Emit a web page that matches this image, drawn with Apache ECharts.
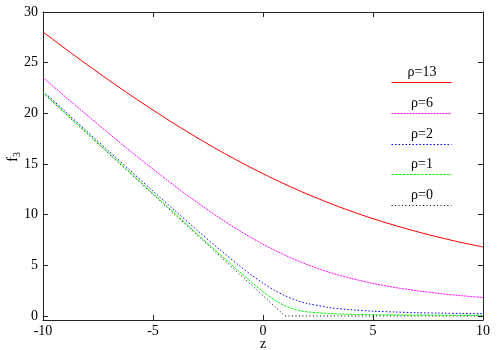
<!DOCTYPE html>
<html><head><meta charset="utf-8">
<script src="https://cdn.jsdelivr.net/npm/echarts@6/dist/echarts.min.js"></script>
<style>html,body{margin:0;padding:0;background:#fff}#c{width:500px;height:350px}</style>
</head><body><div id="c"></div>
<script>
const zValues = [-10,-9,-8,-7,-6,-5,-4,-3,-2,-1,-0.5,0,0.5,1,1.5,2,3,4,5,6,7,8,9,10];
const rho13 = [28.03,26.40,24.81,23.26,21.76,20.32,18.93,17.60,16.34,15.15,14.59,14.04,13.51,13.00,12.51,12.04,11.15,10.34,9.60,8.93,8.32,7.76,7.26,6.81];
const rho6  = [23.53,21.66,19.82,18.00,16.22,14.49,12.81,11.21,9.71,8.32,7.68,7.08,6.52,6.00,5.52,5.08,4.32,3.71,3.21,2.81,2.49,2.22,2.00,1.82];
const rho2  = [22.18,20.20,18.22,16.25,14.28,12.32,10.39,8.47,6.61,4.83,4.00,3.24,2.56,2.00,1.56,1.24,0.83,0.61,0.47,0.39,0.32,0.28,0.25,0.22];
const rho1  = [22.05,20.05,18.06,16.06,14.07,12.08,10.10,8.12,6.16,4.24,3.30,2.41,1.62,1.00,0.62,0.41,0.24,0.16,0.12,0.10,0.08,0.07,0.06,0.06];
const rho0  = [22,20,18,16,14,12,10,8,6,4,3,2,1,0,0,0,0,0,0,0,0,0,0,0];
const seriesNames = ['ρ=13','ρ=6','ρ=2','ρ=1','ρ=0'];
const xTicks = [-10,-5,0,5,10];
const yTicks = [0,5,10,15,20,25,30];

const seriesData = [rho13, rho6, rho2, rho1, rho0];
const colors = ['#ff0000','#ff00ff','#0000ff','#00ff00','#000000'];
const dashes = ['solid',[2,1],[1.5,2],[2.5,1.2],[1,2.5]];
const smooths = [0.3,0.3,0.3,0.3,false];
const FONT = 'Liberation Serif';

const chart = echarts.init(document.getElementById('c'), null, {renderer:'canvas'});

const series = seriesData.map((arr, i) => ({
  name: seriesNames[i],
  type: 'line',
  xAxisIndex: 0, yAxisIndex: 0,
  data: zValues.map((z, k) => [z, arr[k]]),
  showSymbol: false,
  symbol: 'none',
  smooth: smooths[i],
  color: colors[i],
  itemStyle: {color: colors[i]},
  lineStyle: {color: colors[i], width: 1, type: dashes[i]},
  z: 10 - i,
  animation: false
}));

const legendY = seriesNames.map((n, i) => Math.round(82 + i * 30.75));

const legends = seriesNames.map((n, i) => ({
  data: [n],
  left: 386, top: legendY[i] - 10,
  padding: 5, itemGap: 0,
  itemWidth: 60, itemHeight: 11,
  selectedMode: false,
  itemStyle: {opacity: 0},
  lineStyle: {width: 1, color: colors[i]},
  formatter: () => '',
  textStyle: {fontSize: 1, padding: 0}
}));

const labelGraphics = seriesNames.map((n, i) => ({
  type: 'text', x: 422, y: legendY[i] - 3,
  style: {text: n, fontFamily: FONT, fontSize: 14, align: 'center', verticalAlign: 'bottom', fill: '#000'}
}));

const axisLine = {show: true, onZero: false, lineStyle: {color: '#222', width: 1}};
const tickStyle = {show: true, inside: true, length: 5, lineStyle: {color: '#222', width: 1}};

chart.setOption({
  animation: false,
  backgroundColor: '#fff',
  color: colors,
  grid: {left: 43, right: 17, top: 12, bottom: 30, containLabel: false},
  legend: legends,
  xAxis: [{
    type: 'value', min: -10, max: 10, interval: 5, position: 'bottom',
    axisLine: axisLine, axisTick: tickStyle, splitLine: {show: false},
    axisLabel: {color: '#000', fontFamily: FONT, fontSize: 14, margin: 4}
  }, {
    type: 'value', min: -10, max: 10, interval: 5, position: 'top',
    axisLine: axisLine, axisTick: tickStyle, splitLine: {show: false},
    axisLabel: {show: false}
  }],
  yAxis: [{
    type: 'value', min: -0.4, max: 30, position: 'left',
    axisLine: axisLine,
    axisTick: Object.assign({}, tickStyle, {customValues: yTicks}),
    splitLine: {show: false},
    axisLabel: {color: '#000', fontFamily: FONT, fontSize: 14, margin: 5, customValues: yTicks}
  }, {
    type: 'value', min: -0.4, max: 30, position: 'right',
    axisLine: axisLine,
    axisTick: Object.assign({}, tickStyle, {customValues: yTicks}),
    splitLine: {show: false},
    axisLabel: {show: false}
  }],
  series: series,
  graphic: labelGraphics.concat([{
    type: 'text', x: 263, y: 344,
    style: {text: 'z', fontFamily: FONT, fontSize: 14, align: 'center', verticalAlign: 'middle', fill: '#000'}
  }, {
    type: 'group', x: 13, y: 157, rotation: Math.PI / 2,
    children: [
      {type: 'text', x: 0, y: 0, style: {text: 'f', fontFamily: FONT, fontSize: 14, align: 'right', verticalAlign: 'middle', fill: '#000'}},
      {type: 'text', x: 0, y: 4, style: {text: '3', fontFamily: FONT, fontSize: 10, align: 'left', verticalAlign: 'middle', fill: '#000'}}
    ]
  }])
});
</script></body></html>
